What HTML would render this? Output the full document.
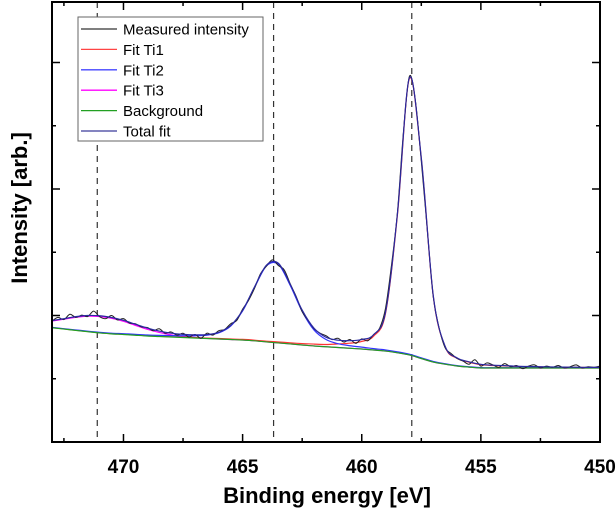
<!DOCTYPE html>
<html><head><meta charset="utf-8"><style>
html,body{margin:0;padding:0;background:#fff;width:616px;height:511px;overflow:hidden}
svg{display:block;font-family:"Liberation Sans",Arial,sans-serif}
</style></head><body>
<svg id="chart" width="616" height="511">
<g id="plot"></g>
<g id="axes"></g>
<text x="327" y="503" text-anchor="middle" font-size="22" font-weight="bold" font-family="Liberation Sans, Arial, sans-serif">Binding energy [eV]</text>
<text x="0" y="0" text-anchor="middle" font-size="22" font-weight="bold" font-family="Liberation Sans, Arial, sans-serif" transform="translate(27,208) rotate(-90)">Intensity [arb.]</text>
<g id="legend"></g>
</svg>
<script>
const E_START=473, E_END=450;
const xTicksMajor=[470,465,460,455,450];
const xTicksMinor=[472.5,467.5,462.5,457.5,452.5];
const yTicksMajor=[1000,2000,3000];
const yTicksMinor=[500,1500,2500];
const peakMarkers=[471.1,463.7,457.9];
const background=[903,893,882,872,862,855,850,844,838,834,830,826,822,818,814,810,806,800,791,783,775,767,759,753,747,741,735,727,719,705,688,660,632,615,601,592,585,585,585,585,585,585,585,585,585,585,585];
const fitTi1=[1,1,1,1,1,1,2,2,2,2,2,3,3,3,4,4,5,5,6,8,9,11,15,18,28,40,60,110,300,1095,2185,1581,523,138,61,39,26,20,17,12,10,8,7,6,5,4,4];
const fitTi2=[3,3,4,4,5,5,6,7,8,9,11,14,18,27,49,107,230,421,601,622,462,265,125,57,30,20,15,11,9,8,6,5,5,4,3,3,3,2,2,2,2,2,1,1,1,1,1];
const fitTi3=[53,78,104,123,130,123,104,78,53,32,17,8,4,1,0,0,0,0,0,0,0,0,0,0,0,0,0,0,0,0,0,0,0,0,0,0,0,0,0,0,0,0,0,0,0,0,0];
const measured=[955,985,968,1010,985,1003,992,1035,990,975,1000,965,975,940,935,910,905,880,895,860,870,845,860,830,850,820,860,845,880,890,935,960,1050,1120,1215,1330,1390,1440,1395,1360,1250,1150,1030,960,895,860,840,810,820,790,810,780,815,800,850,900,1060,1400,1820,2450,2890,2700,2220,1680,1150,900,745,700,660,640,615,650,600,625,610,590,620,595,605,580,600,610,585,600,590,605,585,595,610,585,595,590,600];

const L=52,R=600,T=2,B=442;
const x=v=>L+(E_START-v)/(E_START-E_END)*(R-L);
const y=v=>B-v*0.1265;
const NS='http://www.w3.org/2000/svg';
function mk(tag,attrs,parent){const e=document.createElementNS(NS,tag);for(const k in attrs)e.setAttribute(k,attrs[k]);parent.appendChild(e);return e;}
const plot=document.getElementById('plot'), axes=document.getElementById('axes');
const gridE=(n,step)=>Array.from({length:n},(_,i)=>E_START-i*step);
const E5=gridE(background.length,0.5), E25=gridE(measured.length,0.25);
function smooth(pts){let d=`M${pts[0][0]},${pts[0][1]}`;for(let i=0;i<pts.length-1;i++){const p0=pts[Math.max(0,i-1)],p1=pts[i],p2=pts[i+1],p3=pts[Math.min(pts.length-1,i+2)];const c1=[p1[0]+(p2[0]-p0[0])/6,p1[1]+(p2[1]-p0[1])/6],c2=[p2[0]-(p3[0]-p1[0])/6,p2[1]-(p3[1]-p1[1])/6];d+=`C${c1[0].toFixed(2)},${c1[1].toFixed(2)} ${c2[0].toFixed(2)},${c2[1].toFixed(2)} ${p2[0].toFixed(2)},${p2[1].toFixed(2)}`;}return d;}
peakMarkers.forEach(v=>{const l=mk('line',{x1:x(v),x2:x(v),y1:T,y2:B,stroke:'#333','stroke-width':1.2,'stroke-dasharray':'6,5'},plot);

});
function series(arr,color,name,w){const p=mk('path',{d:smooth(arr.map((v,i)=>[x(E5[i]),y(v)])),fill:'none',stroke:color,'stroke-width':w||1.2},plot);

}
series(fitTi3.map((v,i)=>v+background[i]),'#ff00ff','fit-ti3-line');
series(fitTi1.map((v,i)=>v+background[i]),'#ff3333','fit-ti1-line');
series(fitTi2.map((v,i)=>v+background[i]),'#3333ff','fit-ti2-line');
series(background,'#22a022','background-line');
const mp=mk('path',{d:smooth(measured.map((v,i)=>[x(E25[i]),y(v)])),fill:'none',stroke:'#222','stroke-width':1},plot);


series(background.map((b,i)=>b+fitTi1[i]+fitTi2[i]+fitTi3[i]),'#2a2aa0','total-fit-line',1.2);
const fr=mk('rect',{x:L,y:T,width:R-L,height:B-T,fill:'none',stroke:'#000','stroke-width':2},axes);


xTicksMajor.forEach(v=>{mk('line',{x1:x(v),x2:x(v),y1:B,y2:B-8,stroke:'#000','stroke-width':1.5},axes);mk('line',{x1:x(v),x2:x(v),y1:T,y2:T+8,stroke:'#000','stroke-width':1.5},axes);
const t=mk('text',{x:x(v),y:473,'text-anchor':'middle','font-size':19,'font-weight':'bold'},axes);t.textContent=v;

});
xTicksMinor.forEach(v=>{mk('line',{x1:x(v),x2:x(v),y1:B,y2:B-4,stroke:'#000','stroke-width':1.5},axes);mk('line',{x1:x(v),x2:x(v),y1:T,y2:T+4,stroke:'#000','stroke-width':1.5},axes);});
yTicksMajor.forEach(v=>{mk('line',{x1:L,x2:L+8,y1:y(v),y2:y(v),stroke:'#000','stroke-width':1.5},axes);mk('line',{x1:R,x2:R-8,y1:y(v),y2:y(v),stroke:'#000','stroke-width':1.5},axes);});
yTicksMinor.forEach(v=>{mk('line',{x1:L,x2:L+4,y1:y(v),y2:y(v),stroke:'#000','stroke-width':1.5},axes);mk('line',{x1:R,x2:R-4,y1:y(v),y2:y(v),stroke:'#000','stroke-width':1.5},axes);});
const lg=document.getElementById('legend');
mk('rect',{x:78,y:17,width:185,height:124,fill:'#fff',stroke:'#666','stroke-width':1},lg);
const legNames=['Measured intensity','Fit Ti1','Fit Ti2','Fit Ti3','Background','Total fit'];
const legColors=['#333','#ff4444','#4444ff','#ff00ff','#22a022','#3a3a9a'];
legNames.forEach((n,i)=>{const yy=29+i*20.4;
const e=mk('g',{},lg);


mk('line',{x1:81,x2:117,y1:yy,y2:yy,stroke:legColors[i],'stroke-width':1.3},e);
const t=mk('text',{x:123,y:yy+5.5,'font-size':15},e);t.textContent=n;});
</script>
</body></html>
